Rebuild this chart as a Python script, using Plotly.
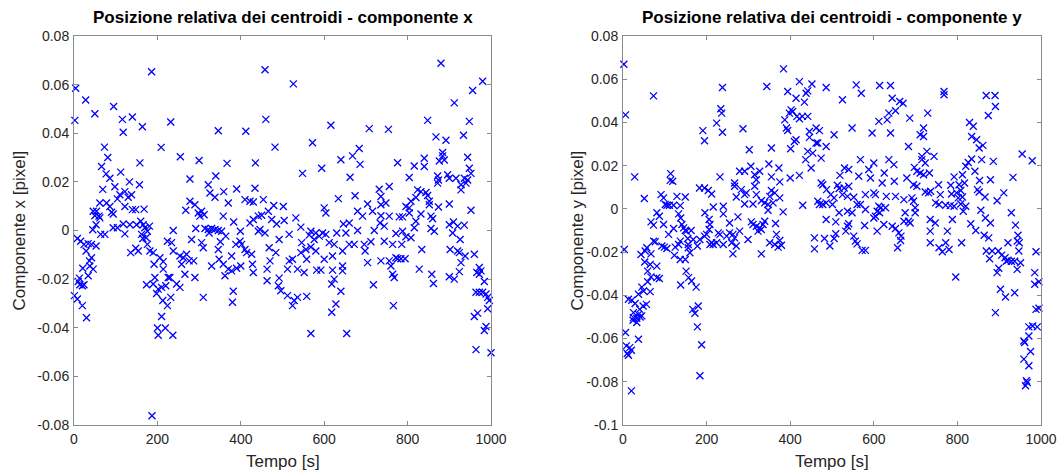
import plotly.graph_objects as go

# Valori: tempo [s] e componente [pixel]
tempo_x = [
    4, 2, 28, 50, 95, 116, 118, 140, 164, 186,
    209, 232, 73, 81, 66, 77, 86, 69, 112, 133,
    158, 157, 98, 110, 122, 130, 138, 104, 122, 140,
    148, 168, 62, 78, 86, 90, 94, 46, 54, 60,
    50, 62, 53, 45, 64, 74, 94, 104, 118, 122,
    134, 150, 160, 166, 170, 176, 181, 162, 165, 173,
    176, 182, 136, 148, 154, 8, 16, 24, 34, 42,
    53, 29, 42, 37, 46, 21, 38, 34, 13, 10,
    14, 20, 24, 1, 8, 20, 30, 190, 206, 214,
    214, 192, 190, 194, 198, 202, 210, 220, 226, 230,
    224, 234, 238, 174, 213, 224, 232, 210, 200, 202,
    219, 237, 187, 238,
    458, 460, 346, 412, 482, 255, 300, 367, 435, 278,
    340, 322, 326, 338, 359, 390, 434, 370, 410, 422,
    430, 454, 479, 278, 290, 268, 298, 306, 312, 302,
    358, 383, 442, 450, 466, 474, 486, 292, 314, 322,
    330, 338, 346, 354, 324, 399, 422, 430, 442, 446,
    458, 282, 306, 310, 351, 364, 388, 398, 402, 410,
    414, 426, 468, 254, 262, 270, 276, 287, 258, 266,
    290, 330, 346, 348, 358, 362, 370, 378, 390, 400,
    378, 428, 430, 463, 470, 463, 490, 246, 254, 310,
    382, 380,
    526, 616, 708, 572, 684, 668, 640, 686, 548, 594,
    662, 732, 634, 674, 502, 600, 604, 532, 704, 716,
    680, 692, 736, 504, 544, 646, 660, 680, 720, 734,
    568, 580, 596, 604, 630, 652, 492, 516, 564, 576,
    588, 612, 624, 660, 672, 696, 712, 546, 556, 568,
    484, 516, 524, 544, 558, 580, 600, 620, 644, 698,
    704, 736, 512, 536, 552, 582, 592, 620, 644, 644,
    624, 618, 492, 496, 512, 524, 528, 536, 558, 640,
    718, 628, 618, 568, 654,
    880, 980, 956, 912, 848, 948, 754, 868, 892, 934,
    776, 816, 840, 840, 884, 884, 888, 876, 944, 948,
    952, 804, 872, 874, 896, 900, 916, 936, 944, 872,
    928, 940, 928, 756, 824, 832, 844, 848, 820, 808,
    736, 748, 796, 804, 852, 852, 874, 900, 952, 736,
    756, 780, 788, 804, 820, 832, 856, 860, 744, 900,
    910, 920, 936, 856, 864, 816, 788, 772, 796, 808,
    744, 764, 786, 908, 926, 834, 902, 920, 924, 938,
    960, 772, 776, 784, 794, 756, 760, 764, 768, 828,
    858, 862, 900, 912, 924, 928, 972, 976, 966, 972,
    984, 964, 972, 980, 988, 992, 996, 992, 960, 968,
    988, 984, 964, 1000, 766,
]
componente_x = [
    .0585, .0453, .0537, .048, .051, .0457, .0404, .0467, .0427, .0653,
    .0342, .0446, .0343, .030, .0263, .0233, .0215, .0169, .024, .020,
    .0278, .0188, .018, .0147, .016, .0137, .0147, .013, .0099, .0086,
    .0086, .0088, .0113, .0113, .0099, .0075, .0068, .0079, .0079, .0059,
    .0061, .0052, .0024, .0003, -.0016, -.0016, .0011, .0011, .0027, -.0014,
    .0024, .0024, .0038, .0024, .0011, -.0003, .0018, -.0016, -.0033, -.003,
    -.0057, -.0084, -.0091, -.0073, -.0084, -.0033, -.0044, -.0057, -.0054, -.0057,
    -.0064, -.0084, -.0112, -.0125, -.0159, -.0155, -.0146, -.0186, -.0196, -.021,
    -.0223, -.0227, -.0223, -.0268, -.0282, -.0309, -.0359, -.0091, -.0112, -.0128,
    -.0159, -.0139, -.022, -.0193, -.0259, -.0241, -.0234, -.0227, -.0193, -.0193,
    -.0044, -.005, 0, -.0223, -.0288, -.0309, -.0275, -.0354, -.0401, -.0431,
    -.0401, -.0431, -.0762, -.0084,
    .0661, .0457, .041, .0408, .0343, .0303, .0288, .0276, .0278, .0212,
    .0224, .0188, .0154, .0137, .016, .0171, .0174, .0113, .0127, .012,
    .0117, .0127, .0103, .012, .0106, .0083, .0072, .0079, .0065, .0059,
    .0059, .0035, .0059, .0063, .0079, .0045, .0027, .0008, .0008, .0004,
    .0008, .0004, 0, -.0003, -.001, -.0003, .0031, .0045, -.0003, .0004,
    -.001, -.0037, -.005, -.0071, -.0046, -.0023, -.0057, -.0044, -.0057, -.0078,
    -.0091, -.0098, -.0071, -.0105, -.0112, -.0098, -.0125, -.0125, -.0139, -.018,
    -.0193, -.0146, -.0078, -.0118, -.0139, -.0186, -.0159, -.0166, -.0155, -.0146,
    -.0105, -.0139, -.0173, -.0159, -.0125, -.0207, -.0227, -.022, -.0234, -.0275,
    -.025, -.0295,
    .0603, .0433, .0419, .0361, .0337, .0307, .0291, .0272, .0235, .0256,
    .0219, .017, .0131, .0143, .0099, .0093, .0072, .0052, .0109, .0079,
    .0079, .0059, .0106, .0041, .0014, .0027, .0031, 0, 0, .0031,
    -.0003, -.001, -.001, -.0016, -.001, -.001, -.0037, -.0016, -.0019, -.0037,
    -.0023, -.005, -.0057, -.0057, -.0057, -.0057, -.0046, -.005, -.0078, -.0068,
    -.0091, -.0125, -.0118, -.0091, -.0118, -.0084, -.0118, -.0105, -.0084, -.0084,
    -.0132, -.0125, -.0159, -.0159, -.0173, -.0163, -.0163, -.0163, -.0146, -.0166,
    -.02, -.022, -.0196, -.0248, -.0268, -.0309, -.0288, -.0275, -.0271, -.025,
    -.0223, -.0302, -.0336, -.0424, -.0424,
    .0688, .0614, .0576, .0525, .0453, .0449, .0416, .0385, .0371, .0392,
    .0279, .0265, .0297, .0263, .0321, .0307, .029, .0286, .0301, .0256,
    .0235, .0218, .0224, .0208, .0229, .0215, .0215, .0215, .0208, .0195,
    .0188, .0195, .0167, .0181, .0167, .016, .0156, .0144, .0136, .012,
    .014, .0113, .0099, .0093, .012, .0106, .0097, .0109, .0083, .0061,
    .0059, .0056, .0056, .0072, .0038, .0068, .0059, .0048, .0018, .0024,
    .0035, .0018, .0022, .0008, -.0003, .0011, -.0003, -.0012, -.0026, -.003,
    -.0044, -.0057, -.0057, -.001, -.0037, -.0078, -.0078, -.0084, -.0091, -.0105,
    -.0098, -.0112, -.0116, -.0116, -.0116, -.0125, -.0146, -.018, -.0193, -.0159,
    -.018, -.0218, -.019, -.02, -.0169, -.0132, -.0152, -.0166, -.0173, -.018,
    -.021, -.0254, -.0254, -.0254, -.0261, -.0275, -.0288, -.0322, -.0354, -.034,
    -.0395, -.0411, -.049, -.0503, -.0309,
]

tempo_y = [
    2, 6, 73, 3, 28, 51, 114, 113, 119, 91,
    97, 101, 105, 111, 121, 129, 149, 137, 133, 138,
    81, 87, 97, 73, 67, 109, 121, 141, 145, 149,
    137, 133, 125, 152, 163, 155, 168, 178, 184, 73,
    77, 93, 99, 105, 57, 53, 43, 156, 160, 149,
    137, 156, 123, 67, 52, 65, 59, 81, 87, 81,
    67, 59, 65, 49, 37, 45, 151, 157, 164, 175,
    138, 167, 172, 180, 178, 188, 184, 13, 21, 29,
    56, 48, 40, 25, 37, 25, 33, 41, 45, 33,
    24, 6, 37, 8, 16, 20, 10, 13, 20, 195,
    183, 204, 191, 195, 212, 216, 196, 206, 208, 206,
    200, 195, 212, 208, 216, 224, 228, 232, 224, 234,
    236, 238, 238, 232, 240, 240, 240,
    344, 384, 422, 452, 486, 394, 414, 438, 442, 434,
    287, 402, 406, 398, 416, 422, 429, 442, 387, 391,
    394, 446, 462, 470, 414, 410, 446, 462, 466, 486,
    302, 355, 401, 442, 454, 474, 437, 450, 349, 306,
    279, 291, 327, 373, 315, 319, 355, 375, 400, 422,
    267, 267, 283, 295, 291, 315, 319, 355, 363, 351,
    375, 474, 478, 271, 291, 311, 331, 339, 347, 359,
    430, 466, 470, 478, 486, 275, 347, 383, 486, 307,
    311, 319, 327, 331, 335, 339, 323, 365, 255, 255,
    263, 279, 248, 267, 299, 260, 271, 263, 331, 351,
    363, 367, 375, 379, 371, 458, 458, 482,
    558, 570, 614, 640, 525, 644, 662, 670, 652, 636,
    632, 612, 686, 729, 719, 548, 596, 640, 711, 719,
    505, 683, 727, 715, 715, 568, 600, 636, 648, 530,
    540, 519, 588, 564, 592, 625, 697, 703, 711, 719,
    733, 723, 679, 620, 649, 695, 703, 513, 517, 529,
    540, 487, 497, 505, 525, 537, 552, 580, 600, 604,
    630, 652, 672, 691, 723, 731, 501, 560, 568, 612,
    617, 628, 695, 699, 699, 580, 537, 517, 548, 608,
    614, 604, 600, 675, 509, 540, 537, 578, 624, 644,
    672, 683, 687, 735, 735, 533, 608, 652, 660, 665,
    664, 657, 509, 505, 495, 552, 556, 560, 572, 580,
    735,
    768, 768, 869, 890, 891, 874, 829, 838, 834, 846,
    852, 861, 955, 979, 744, 834, 858, 886, 826, 820,
    792, 812, 842, 853, 879, 933, 755, 784, 804, 817,
    736, 786, 798, 808, 848, 852, 911, 759, 802, 812,
    866, 895, 748, 756, 772, 783, 792, 808, 820, 814,
    856, 929, 788, 867, 832, 879, 939, 747, 776, 844,
    864, 875, 945, 943, 948, 921, 756, 764, 772, 780,
    810, 869, 883, 898, 906, 914, 921, 929, 937, 947,
    951, 943, 917, 899, 895, 877, 796, 903, 915, 937,
    891, 988, 985, 985, 995, 988, 995, 971, 980, 991,
    971, 959, 961, 975, 959, 971, 965, 967, 963,
]
componente_y = [
    .0669, .0435, .0523, -.0188, .0148, .0048, .0163, .0132, .0128, .0066,
    .0051, .002, .0017, .0017, .0017, .0058, .0055, .0015, -.0023, -.0042,
    -.0018, -.0034, -.0072, -.0075, -.006, -.0118, -.0091, -.0072, -.0088, -.01,
    -.0149, -.0165, -.0177, -.0103, -.01, -.0137, -.0142, -.0172, -.0142, -.0149,
    -.0152, -.0172, -.0177, -.0183, -.018, -.0195, -.0211, -.018, -.0203, -.0234,
    -.0234, -.0165, -.0215, -.0208, -.0246, -.0257, -.0288, -.0265, -.0322, -.0318,
    -.0315, -.0337, -.0383, -.038, -.0395, -.0362, -.0288, -.0318, -.0334, -.0362,
    -.0352, -.0465, -.0483, -.0449, -.0546, -.0629, -.0772, -.0418, -.0423, -.0438,
    -.0442, -.0449, -.0465, -.048, -.0488, -.0503, -.0506, -.05, -.0495, -.0526,
    -.0515, -.0572, -.0603, -.0634, -.0642, -.0654, -.0669, -.0677, -.0842, .0097,
    .0097, .0085, .0362, .0315, .0069, .0009, -.0018, -.0049, -.0072, -.0095,
    -.0118, -.0126, -.0157, -.0165, -.0165, -.0157, -.0111, -.0118, .0397, .0463,
    .0443, .0355, .0562, .0148, -.0023, .0012, -.0165,
    .0566, .0648, .0589, .0578, .0562, .0543, .0512, .0535, .0546, .0494,
    .0371, .0458, .0451, .0443, .0428, .0417, .0428, .0428, .0412, .0374,
    .0363, .0358, .0374, .0362, .032, .0312, .0331, .0305, .0305, .0289,
    .0274, .0282, .0278, .0266, .0258, .0235, .0228, .0189, .0208, .0197,
    .0174, .0174, .0174, .0189, .0158, .0135, .0148, .0125, .0143, .0155,
    .012, .0105, .0089, .0074, .0066, .0105, .0066, .0085, .0074, .0058,
    .0051, .012, .0112, .0055, .0023, .0023, .0038, .0028, .002, .0028,
    .0017, .0035, .002, .002, .0028, -.0037, -.0006, -.0014, -.0049, -.006,
    -.0072, -.008, -.0088, -.0095, -.0072, -.0057, -.0103, -.0068, -.0065, -.0111,
    -.0118, -.0103, -.0126, -.0134, -.0142, -.0157, -.0172, -.0208, -.0208, -.0157,
    -.0165, -.0118, -.0146, -.0168, -.0177, -.0134, -.0185, -.0137,
    .0574, .0535, .0571, .0571, .0505, .0512, .0497, .0489, .0454, .0443,
    .0412, .0405, .042, .0443, .0374, .0374, .0351, .0351, .0343, .0335,
    .0343, .0289, .0266, .0243, .0228, .0228, .0212, .0228, .0205, .0189,
    .0182, .0155, .0182, .0151, .0143, .0166, .0192, .0174, .0166, .0158,
    .0166, .0212, .0143, .012, .0128, .0112, .0105, .0109, .0094, .0097,
    .0105, .0089, .0066, .0051, .0066, .0058, .0054, .0066, .0074, .0066,
    .0058, .0058, .0043, .0051, .0078, .0074, .002, .002, .002, .0012,
    .0005, .0005, .0035, .0005, -.0018, -.0003, -.0011, -.0018, -.0018, -.0011,
    -.0018, -.0034, -.0042, -.0018, -.006, -.0069, -.008, -.0077, -.0072, -.008,
    -.0057, -.0057, -.0065, -.0049, -.0103, -.0103, -.0103, -.0091, -.0111, -.0126,
    -.0146, -.018, -.0115, -.0137, -.0172, -.0126, -.0149, -.0162, -.0192, -.0192,
    -.0157,
    .0543, .0528, .0525, .0525, .0474, .0432, .04, .0382, .0335, .032,
    .0282, .0294, .0254, .0223, .0243, .0231, .0228, .022, .0215, .0197,
    .0148, .0158, .0174, .0131, .0135, .0146, .0112, .0109, .0112, .012,
    .0082, .0069, .0074, .0085, .0089, .0078, .0074, .0066, .0051, .0055,
    .0055, .0038, .0028, .002, .0017, .0015, .0012, .0023, .0012, -.0011,
    -.0006, -.0018, -.0049, -.0042, -.0069, -.0065, -.0075, -.0065, -.0103, -.01,
    -.0122, -.0134, -.0122, -.0149, -.0157, -.0157, -.018, -.0198, -.0157, -.0188,
    -.0157, -.0195, -.0195, -.0195, -.0214, -.0226, -.0238, -.0242, -.0242, -.0195,
    -.0249, -.028, -.0242, -.0275, -.0295, -.0231, -.0315, -.0372, -.0408, -.0388,
    -.048, -.0198, -.0295, -.0349, -.0337, -.0465, -.046, -.0546, -.0542, -.0546,
    -.0588, -.0611, -.0618, -.066, -.0695, -.0726, -.0795, -.0803, -.0818,
]
assert len(tempo_x) == len(componente_x)
assert len(tempo_y) == len(componente_y)

tick_tempo = [0, 200, 400, 600, 800, 1000]
tick_x_val = [-0.08, -0.06, -0.04, -0.02, 0, 0.02, 0.04, 0.06, 0.08]
tick_x_txt = ["-0.08", "-0.06", "-0.04", "-0.02", "0", "0.02", "0.04", "0.06", "0.08"]
tick_y_val = [-0.1, -0.08, -0.06, -0.04, -0.02, 0, 0.02, 0.04, 0.06, 0.08]
tick_y_txt = ["-0.1", "-0.08", "-0.06", "-0.04", "-0.02", "0", "0.02", "0.04", "0.06", "0.08"]

FONT = "Liberation Sans, Arial, sans-serif"
TXT = "#262626"
AX = "#8a8a8a"
W, H = 1058, 470

dom_sx = [74 / W, 491 / W]
dom_dx = [623 / W, 1041 / W]
dom_v = [1 - 425 / H, 1 - 36 / H]

fig = go.Figure()

marker = dict(symbol="x-thin", size=7, color="#0000ff", line=dict(color="#0000ff", width=1.3))
fig.add_trace(go.Scatter(x=tempo_x, y=componente_x, mode="markers", marker=marker,
                         xaxis="x", yaxis="y", cliponaxis=False, showlegend=False))
fig.add_trace(go.Scatter(x=tempo_y, y=componente_y, mode="markers", marker=marker,
                         xaxis="x2", yaxis="y2", cliponaxis=False, showlegend=False))

asse = dict(showgrid=False, zeroline=False, showline=True, linecolor=AX, linewidth=1,
            mirror="ticks", ticks="inside", ticklen=4, tickcolor=AX, tickwidth=1,
            automargin=False,
            tickfont=dict(family=FONT, size=14, color=TXT), ticklabelstandoff=1)

fig.update_layout(
    width=W, height=H,
    margin=dict(l=0, r=0, t=0, b=0, pad=0, autoexpand=False),
    paper_bgcolor="white", plot_bgcolor="white",
    xaxis=dict(asse, domain=dom_sx, range=[0, 1000], tickvals=tick_tempo, anchor="y"),
    yaxis=dict(asse, domain=dom_v, range=[-0.08, 0.08], tickvals=tick_x_val, ticktext=tick_x_txt, anchor="x"),
    xaxis2=dict(asse, domain=dom_dx, range=[0, 1000], tickvals=tick_tempo, anchor="y2"),
    yaxis2=dict(asse, domain=dom_v, range=[-0.1, 0.08], tickvals=tick_y_val, ticktext=tick_y_txt, anchor="x2"),
)

titoli = [
    ("<b>Posizione relativa dei centroidi - componente x</b>", sum(dom_sx) / 2),
    ("<b>Posizione relativa dei centroidi - componente y</b>", sum(dom_dx) / 2),
]
for testo, cx in titoli:
    fig.add_annotation(text=testo, x=cx, y=1 - 18 / H, xref="paper", yref="paper",
                       showarrow=False, xanchor="center", yanchor="middle",
                       font=dict(family=FONT, size=17, color="#000000"))

for cx in [sum(dom_sx) / 2, sum(dom_dx) / 2]:
    fig.add_annotation(text="Tempo [s]", x=cx, y=1 - 461 / H, xref="paper", yref="paper",
                       showarrow=False, xanchor="center", yanchor="middle",
                       font=dict(family=FONT, size=17, color=TXT))

for testo, px in [("Componente x [pixel]", 19), ("Componente y [pixel]", 577)]:
    fig.add_annotation(text=testo, x=px / W, y=sum(dom_v) / 2, xref="paper", yref="paper",
                       showarrow=False, xanchor="center", yanchor="middle", textangle=-90,
                       font=dict(family=FONT, size=17, color=TXT))

fig.write_html("out.html", config={"displayModeBar": False},
               post_script="document.body.style.margin='0px';document.body.style.overflow='hidden';")
